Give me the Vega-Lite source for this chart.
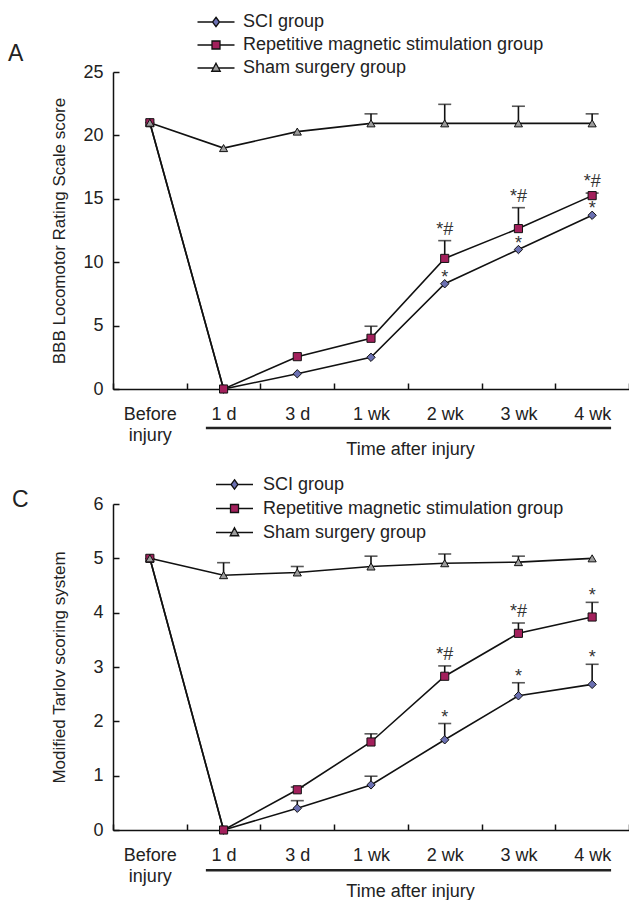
{
  "$schema": "https://vega.github.io/schema/vega-lite/v6.json",
  "background": "white",
  "padding": {"left": 8, "top": 13, "right": 0, "bottom": 0},
  "config": {
    "font": "Liberation Sans",
    "view": {"stroke": null},
    "axis": {
      "domainColor": "#111", "domainWidth": 1.5, "tickColor": "#111", "tickWidth": 1.5,
      "labelColor": "#222", "labelFontSize": 18, "labelFont": "Liberation Sans",
      "titleColor": "#222", "titleFontSize": 17, "titleFontWeight": "normal", "titleFont": "Liberation Sans",
      "grid": false
    },
    "legend": {
      "title": null, "orient": "none", "direction": "vertical", "padding": 0,
      "labelFontSize": 18, "labelColor": "#222", "labelFont": "Liberation Sans", "labelLimit": 400,
      "symbolSize": 100, "symbolStrokeColor": "#111", "symbolStrokeWidth": 1.3, "symbolOpacity": 1
    }
  },
  "datasets": {
    "scores": [
      {"panel": "A", "group": "SCI group", "time": "Before injury", "value": 21, "upper": 21},
      {"panel": "A", "group": "SCI group", "time": "1 d", "value": 0, "upper": 0},
      {"panel": "A", "group": "SCI group", "time": "3 d", "value": 1.2, "upper": 1.2},
      {"panel": "A", "group": "SCI group", "time": "1 wk", "value": 2.5, "upper": 2.5},
      {"panel": "A", "group": "SCI group", "time": "2 wk", "value": 8.3, "upper": 8.3, "sig": "*"},
      {"panel": "A", "group": "SCI group", "time": "3 wk", "value": 11.0, "upper": 11.0, "sig": "*"},
      {"panel": "A", "group": "SCI group", "time": "4 wk", "value": 13.7, "upper": 13.7, "sig": "*"},
      {"panel": "A", "group": "Repetitive magnetic stimulation group", "time": "Before injury", "value": 21, "upper": 21},
      {"panel": "A", "group": "Repetitive magnetic stimulation group", "time": "1 d", "value": 0, "upper": 0},
      {"panel": "A", "group": "Repetitive magnetic stimulation group", "time": "3 d", "value": 2.55, "upper": 2.55},
      {"panel": "A", "group": "Repetitive magnetic stimulation group", "time": "1 wk", "value": 4.0, "upper": 4.95},
      {"panel": "A", "group": "Repetitive magnetic stimulation group", "time": "2 wk", "value": 10.3, "upper": 11.7, "sig": "*#"},
      {"panel": "A", "group": "Repetitive magnetic stimulation group", "time": "3 wk", "value": 12.65, "upper": 14.3, "sig": "*#"},
      {"panel": "A", "group": "Repetitive magnetic stimulation group", "time": "4 wk", "value": 15.25, "upper": 15.45, "sig": "*#"},
      {"panel": "A", "group": "Sham surgery group", "time": "Before injury", "value": 21, "upper": 21},
      {"panel": "A", "group": "Sham surgery group", "time": "1 d", "value": 19.0, "upper": 19.0},
      {"panel": "A", "group": "Sham surgery group", "time": "3 d", "value": 20.3, "upper": 20.3},
      {"panel": "A", "group": "Sham surgery group", "time": "1 wk", "value": 20.95, "upper": 21.7},
      {"panel": "A", "group": "Sham surgery group", "time": "2 wk", "value": 20.95, "upper": 22.45},
      {"panel": "A", "group": "Sham surgery group", "time": "3 wk", "value": 20.95, "upper": 22.3},
      {"panel": "A", "group": "Sham surgery group", "time": "4 wk", "value": 20.95, "upper": 21.7},
      {"panel": "C", "group": "SCI group", "time": "Before injury", "value": 5, "upper": 5},
      {"panel": "C", "group": "SCI group", "time": "1 d", "value": 0, "upper": 0},
      {"panel": "C", "group": "SCI group", "time": "3 d", "value": 0.4, "upper": 0.54},
      {"panel": "C", "group": "SCI group", "time": "1 wk", "value": 0.83, "upper": 0.99},
      {"panel": "C", "group": "SCI group", "time": "2 wk", "value": 1.66, "upper": 1.96, "sig": "*"},
      {"panel": "C", "group": "SCI group", "time": "3 wk", "value": 2.47, "upper": 2.71, "sig": "*"},
      {"panel": "C", "group": "SCI group", "time": "4 wk", "value": 2.68, "upper": 3.05, "sig": "*"},
      {"panel": "C", "group": "Repetitive magnetic stimulation group", "time": "Before injury", "value": 5, "upper": 5},
      {"panel": "C", "group": "Repetitive magnetic stimulation group", "time": "1 d", "value": 0, "upper": 0},
      {"panel": "C", "group": "Repetitive magnetic stimulation group", "time": "3 d", "value": 0.74, "upper": 0.79},
      {"panel": "C", "group": "Repetitive magnetic stimulation group", "time": "1 wk", "value": 1.62, "upper": 1.77},
      {"panel": "C", "group": "Repetitive magnetic stimulation group", "time": "2 wk", "value": 2.83, "upper": 3.02, "sig": "*#"},
      {"panel": "C", "group": "Repetitive magnetic stimulation group", "time": "3 wk", "value": 3.62, "upper": 3.81, "sig": "*#"},
      {"panel": "C", "group": "Repetitive magnetic stimulation group", "time": "4 wk", "value": 3.92, "upper": 4.19, "sig": "*"},
      {"panel": "C", "group": "Sham surgery group", "time": "Before injury", "value": 5, "upper": 5},
      {"panel": "C", "group": "Sham surgery group", "time": "1 d", "value": 4.69, "upper": 4.92},
      {"panel": "C", "group": "Sham surgery group", "time": "3 d", "value": 4.74, "upper": 4.85},
      {"panel": "C", "group": "Sham surgery group", "time": "1 wk", "value": 4.85, "upper": 5.04},
      {"panel": "C", "group": "Sham surgery group", "time": "2 wk", "value": 4.91, "upper": 5.08},
      {"panel": "C", "group": "Sham surgery group", "time": "3 wk", "value": 4.93, "upper": 5.04},
      {"panel": "C", "group": "Sham surgery group", "time": "4 wk", "value": 5.0, "upper": 5.0}
    ]
  },
  "bounds": "flush",
  "spacing": 115,
  "resolve": {
    "scale": {"x": "independent", "y": "independent", "fill": "independent"},
    "legend": {"fill": "independent"}
  },
  "vconcat": [
    {
      "width": 516,
      "height": 317,
      "title": {"text": "A", "anchor": "start", "frame": "group", "dx": -105, "dy": 81.5, "offset": 11, "baseline": "alphabetic", "fontSize": 23, "fontWeight": "normal", "color": "#222", "font": "Liberation Sans"},
      "layer": [
        {
          "data": {"name": "scores"},
          "transform": [{"filter": "datum.panel == 'A'"}],
          "mark": {"type": "line", "color": "#111", "strokeWidth": 1.6},
          "encoding": {
            "x": {"field": "time", "type": "ordinal", "sort": ["Before injury", "1 d", "3 d", "1 wk", "2 wk", "3 wk", "4 wk"], "bandPosition": 0.5,
                  "scale": {"type": "band", "domain": ["Before injury", "1 d", "3 d", "1 wk", "2 wk", "3 wk", "4 wk"], "paddingInner": 0, "paddingOuter": 0},
                  "axis": {"title": "Time after injury", "tickBand": "extent", "labelAngle": 0, "tickSize": -6, "labelPadding": 22,
                           "labelExpr": "datum.value == 'Before injury' ? ['Before', 'injury'] : datum.label", "labelLineHeight": 21,
                           "labelFlush": false, "labelOverlap": false, "labelBound": false,
                           "titleFontSize": 18, "titleX": 297, "titleY": 60, "titleBaseline": "middle"}},
            "y": {"field": "value", "type": "quantitative", "scale": {"domain": [0, 25], "nice": false},
                  "axis": {"values": [0, 5, 10, 15, 20, 25], "format": "d", "title": "BBB Locomotor Rating Scale score", "tickSize": -6, "labelPadding": 16, "titlePadding": 14}},
            "detail": {"field": "group"}
          }
        },
        {
          "data": {"name": "scores"},
          "transform": [{"filter": "datum.panel == 'A' && datum.upper > datum.value"}],
          "mark": {"type": "rule", "color": "#111", "strokeWidth": 1.6},
          "encoding": {
            "x": {"field": "time", "type": "ordinal", "bandPosition": 0.5},
            "y": {"field": "value", "type": "quantitative"},
            "y2": {"field": "upper"}
          }
        },
        {
          "data": {"name": "scores"},
          "transform": [{"filter": "datum.panel == 'A' && datum.upper > datum.value"}],
          "mark": {"type": "tick", "color": "#111", "thickness": 1.6, "size": 13, "orient": "horizontal"},
          "encoding": {
            "x": {"field": "time", "type": "ordinal", "bandPosition": 0.5},
            "y": {"field": "upper", "type": "quantitative"}
          }
        },
        {
          "data": {"name": "scores"},
          "transform": [{"filter": "datum.panel == 'A' && datum.group == 'SCI group'"}],
          "mark": {"type": "point", "shape": "diamond", "filled": true, "fill": "#6b70b2", "stroke": "#111", "strokeWidth": 1, "size": 70, "opacity": 1},
          "encoding": {
            "x": {"field": "time", "type": "ordinal", "bandPosition": 0.5},
            "y": {"field": "value", "type": "quantitative"}
          }
        },
        {
          "data": {"name": "scores"},
          "transform": [{"filter": "datum.panel == 'A' && datum.group == 'Repetitive magnetic stimulation group'"}],
          "mark": {"type": "point", "shape": "square", "filled": true, "fill": "#a3205c", "stroke": "#111", "strokeWidth": 1, "size": 66, "opacity": 1},
          "encoding": {
            "x": {"field": "time", "type": "ordinal", "bandPosition": 0.5},
            "y": {"field": "value", "type": "quantitative"}
          }
        },
        {
          "data": {"name": "scores"},
          "transform": [{"filter": "datum.panel == 'A' && datum.group == 'Sham surgery group'"}],
          "mark": {"type": "point", "shape": "triangle-up", "filled": true, "fill": "#9c9c9c", "stroke": "#111", "strokeWidth": 1, "size": 66, "opacity": 1},
          "encoding": {
            "x": {"field": "time", "type": "ordinal", "bandPosition": 0.5},
            "y": {"field": "value", "type": "quantitative"}
          }
        },
        {
          "data": {"name": "scores"},
          "transform": [{"filter": "datum.panel == 'A' && datum.sig == '*'"}],
          "mark": {"type": "text", "baseline": "alphabetic", "dy": -1, "fontSize": 18, "color": "#333"},
          "encoding": {
            "x": {"field": "time", "type": "ordinal", "bandPosition": 0.5},
            "y": {"field": "upper", "type": "quantitative"},
            "text": {"field": "sig"}
          }
        },
        {
          "data": {"name": "scores"},
          "transform": [{"filter": "datum.panel == 'A' && datum.sig == '*#'"}],
          "mark": {"type": "text", "baseline": "alphabetic", "dy": -6, "fontSize": 18, "color": "#333"},
          "encoding": {
            "x": {"field": "time", "type": "ordinal", "bandPosition": 0.5},
            "y": {"field": "upper", "type": "quantitative"},
            "text": {"field": "sig"}
          }
        },
        {
          "data": {"values": [{"from": "1 d", "to": "4 wk"}]},
          "mark": {"type": "rule", "color": "#222", "strokeWidth": 2.6},
          "encoding": {
            "x": {"field": "from", "type": "ordinal", "bandPosition": 0.26},
            "x2": {"field": "to", "bandPosition": 0.757},
            "y": {"datum": -3.08, "type": "quantitative"}
          }
        },
        {
          "data": {"name": "scores"},
          "transform": [{"filter": "datum.panel == 'none'"}],
          "mark": {"type": "point", "filled": true, "stroke": "#111", "strokeWidth": 1.3, "size": 100, "opacity": 1},
          "encoding": {
            "fill": {"field": "group", "type": "nominal",
                     "scale": {"domain": ["SCI group", "Repetitive magnetic stimulation group", "Sham surgery group"], "range": ["#6b70b2", "#a3205c", "#9c9c9c"]},
                     "legend": {"legendX": 94, "legendY": -59, "labelOffset": 18, "rowPadding": 5,
                                "symbolType": {"expr": "datum.value == 'SCI group' ? 'M-3.7,0H-0.7M0.7,0H3.7M0,-0.95L0.7,0L0,0.95L-0.7,0Z' : datum.value == 'Sham surgery group' ? 'M-3.7,0H-0.5M0.5,0H3.7M0,-0.95L0.85,0.65L-0.85,0.65Z' : 'M-3.7,0H-0.8M0.8,0H3.7M-0.8,-0.8H0.8V0.8H-0.8Z'"}}}
          }
        }
      ]
    },
    {
      "width": 516,
      "height": 326,
      "title": {"text": "C", "anchor": "start", "frame": "group", "dx": -101, "dy": 51, "offset": -3, "baseline": "alphabetic", "fontSize": 23, "fontWeight": "normal", "color": "#222", "font": "Liberation Sans"},
      "layer": [
        {
          "data": {"name": "scores"},
          "transform": [{"filter": "datum.panel == 'C'"}],
          "mark": {"type": "line", "color": "#111", "strokeWidth": 1.6},
          "encoding": {
            "x": {"field": "time", "type": "ordinal", "sort": ["Before injury", "1 d", "3 d", "1 wk", "2 wk", "3 wk", "4 wk"], "bandPosition": 0.5,
                  "scale": {"type": "band", "domain": ["Before injury", "1 d", "3 d", "1 wk", "2 wk", "3 wk", "4 wk"], "paddingInner": 0, "paddingOuter": 0},
                  "axis": {"title": "Time after injury", "tickBand": "extent", "labelAngle": 0, "tickSize": -6, "labelPadding": 22,
                           "labelExpr": "datum.value == 'Before injury' ? ['Before', 'injury'] : datum.label", "labelLineHeight": 21,
                           "labelFlush": false, "labelOverlap": false, "labelBound": false,
                           "titleFontSize": 18, "titleX": 297, "titleY": 61, "titleBaseline": "middle"}},
            "y": {"field": "value", "type": "quantitative", "scale": {"domain": [0, 6], "nice": false},
                  "axis": {"values": [0, 1, 2, 3, 4, 5, 6], "format": "d", "title": "Modified Tarlov scoring system", "tickSize": -6, "labelPadding": 16, "titlePadding": 24}},
            "detail": {"field": "group"}
          }
        },
        {
          "data": {"name": "scores"},
          "transform": [{"filter": "datum.panel == 'C' && datum.upper > datum.value"}],
          "mark": {"type": "rule", "color": "#111", "strokeWidth": 1.6},
          "encoding": {
            "x": {"field": "time", "type": "ordinal", "bandPosition": 0.5},
            "y": {"field": "value", "type": "quantitative"},
            "y2": {"field": "upper"}
          }
        },
        {
          "data": {"name": "scores"},
          "transform": [{"filter": "datum.panel == 'C' && datum.upper > datum.value"}],
          "mark": {"type": "tick", "color": "#111", "thickness": 1.6, "size": 13, "orient": "horizontal"},
          "encoding": {
            "x": {"field": "time", "type": "ordinal", "bandPosition": 0.5},
            "y": {"field": "upper", "type": "quantitative"}
          }
        },
        {
          "data": {"name": "scores"},
          "transform": [{"filter": "datum.panel == 'C' && datum.group == 'SCI group'"}],
          "mark": {"type": "point", "shape": "diamond", "filled": true, "fill": "#6b70b2", "stroke": "#111", "strokeWidth": 1, "size": 70, "opacity": 1},
          "encoding": {
            "x": {"field": "time", "type": "ordinal", "bandPosition": 0.5},
            "y": {"field": "value", "type": "quantitative"}
          }
        },
        {
          "data": {"name": "scores"},
          "transform": [{"filter": "datum.panel == 'C' && datum.group == 'Repetitive magnetic stimulation group'"}],
          "mark": {"type": "point", "shape": "square", "filled": true, "fill": "#a3205c", "stroke": "#111", "strokeWidth": 1, "size": 66, "opacity": 1},
          "encoding": {
            "x": {"field": "time", "type": "ordinal", "bandPosition": 0.5},
            "y": {"field": "value", "type": "quantitative"}
          }
        },
        {
          "data": {"name": "scores"},
          "transform": [{"filter": "datum.panel == 'C' && datum.group == 'Sham surgery group'"}],
          "mark": {"type": "point", "shape": "triangle-up", "filled": true, "fill": "#9c9c9c", "stroke": "#111", "strokeWidth": 1, "size": 66, "opacity": 1},
          "encoding": {
            "x": {"field": "time", "type": "ordinal", "bandPosition": 0.5},
            "y": {"field": "value", "type": "quantitative"}
          }
        },
        {
          "data": {"name": "scores"},
          "transform": [{"filter": "datum.panel == 'C' && datum.sig == '*'"}],
          "mark": {"type": "text", "baseline": "alphabetic", "dy": -1, "fontSize": 18, "color": "#333"},
          "encoding": {
            "x": {"field": "time", "type": "ordinal", "bandPosition": 0.5},
            "y": {"field": "upper", "type": "quantitative"},
            "text": {"field": "sig"}
          }
        },
        {
          "data": {"name": "scores"},
          "transform": [{"filter": "datum.panel == 'C' && datum.sig == '*#'"}],
          "mark": {"type": "text", "baseline": "alphabetic", "dy": -6, "fontSize": 18, "color": "#333"},
          "encoding": {
            "x": {"field": "time", "type": "ordinal", "bandPosition": 0.5},
            "y": {"field": "upper", "type": "quantitative"},
            "text": {"field": "sig"}
          }
        },
        {
          "data": {"values": [{"from": "1 d", "to": "4 wk"}]},
          "mark": {"type": "rule", "color": "#222", "strokeWidth": 2.6},
          "encoding": {
            "x": {"field": "from", "type": "ordinal", "bandPosition": 0.26},
            "x2": {"field": "to", "bandPosition": 0.757},
            "y": {"datum": -0.74, "type": "quantitative"}
          }
        },
        {
          "data": {"name": "scores"},
          "transform": [{"filter": "datum.panel == 'none'"}],
          "mark": {"type": "point", "filled": true, "stroke": "#111", "strokeWidth": 1.3, "size": 100, "opacity": 1},
          "encoding": {
            "fill": {"field": "group", "type": "nominal",
                     "scale": {"domain": ["SCI group", "Repetitive magnetic stimulation group", "Sham surgery group"], "range": ["#6b70b2", "#a3205c", "#9c9c9c"]},
                     "legend": {"legendX": 112.5, "legendY": -28.5, "labelOffset": 19.5, "rowPadding": 6,
                                "symbolType": {"expr": "datum.value == 'SCI group' ? 'M-3.7,0H-0.7M0.7,0H3.7M0,-0.95L0.7,0L0,0.95L-0.7,0Z' : datum.value == 'Sham surgery group' ? 'M-3.7,0H-0.5M0.5,0H3.7M0,-0.95L0.85,0.65L-0.85,0.65Z' : 'M-3.7,0H-0.8M0.8,0H3.7M-0.8,-0.8H0.8V0.8H-0.8Z'"}}}
          }
        }
      ]
    }
  ]
}
